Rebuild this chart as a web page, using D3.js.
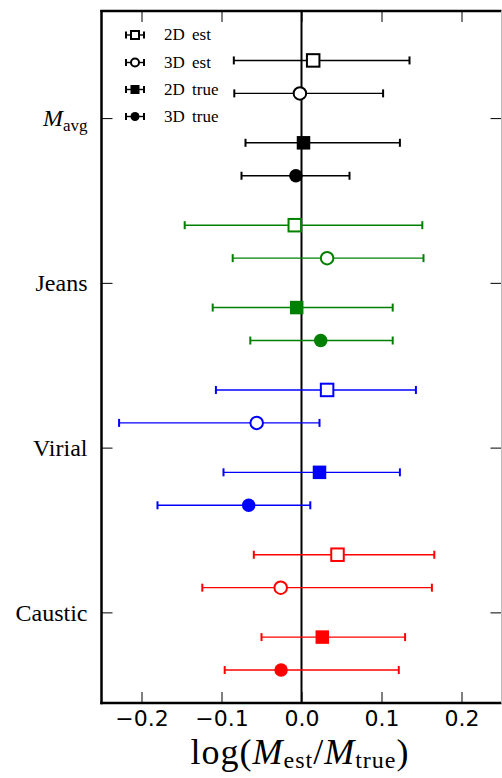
<!DOCTYPE html>
<html>
<head>
<meta charset="utf-8">
<script src="https://cdn.jsdelivr.net/npm/d3@7"></script>
<style>
  html, body { margin: 0; padding: 0; background: #fff; }
  svg { display: block; }
</style>
</head>
<body>
<svg id="chart" width="502" height="778"></svg>
<script>
// ---------------- data ----------------
const methods = ["Mavg", "Jeans", "Virial", "Caustic"];
const series = ["2D est", "3D est", "2D true", "3D true"];
const colors = ["#000000", "#008000", "#0000ff", "#ff0000"];
const xTicks = [-0.2, -0.1, 0.0, 0.1, 0.2];

// each array: [2D est, 3D est, 2D true, 3D true]
const mavgMid   = [0.0146, -0.002, 0.0025, -0.007];
const mavgLo    = [-0.0846, -0.084, -0.070, -0.075];
const mavgHi    = [0.135, 0.102, 0.123, 0.060];

const jeansMid  = [-0.0084, 0.032, -0.006, 0.024];
const jeansLo   = [-0.146, -0.086, -0.111, -0.064];
const jeansHi   = [0.151, 0.1525, 0.114, 0.114];

const virialMid = [0.032, -0.056, 0.0225, -0.066];
const virialLo  = [-0.107, -0.228, -0.0975, -0.180];
const virialHi  = [0.143, 0.0225, 0.123, 0.011];

const causticMid = [0.045, -0.026, 0.026, -0.0255];
const causticLo  = [-0.0596, -0.124, -0.050, -0.096];
const causticHi  = [0.166, 0.163, 0.1295, 0.1216];

const mids = [mavgMid, jeansMid, virialMid, causticMid];
const los  = [mavgLo, jeansLo, virialLo, causticLo];
const his  = [mavgHi, jeansHi, virialHi, causticHi];

// ---------------- layout ----------------
const offsets = [-0.35, -0.15, 0.15, 0.35];
const L = 101.5, R = 501.5, T = 11, B = 703;

const svg = d3.select("#chart");
const x = d3.scaleLinear().domain([-0.25, 0.25]).range([L, R]);
const y = d3.scaleLinear().domain([-0.65, 3.55]).range([T, B]);

const rows = [];
methods.forEach((m, i) => {
  series.forEach((s, j) => {
    rows.push({ m: i, s: j, mid: mids[i][j], lo: los[i][j], hi: his[i][j],
                yv: i + offsets[j], color: colors[i], open: j < 2, square: j % 2 === 0 });
  });
});

// zero line
svg.append("line")
  .attr("x1", x(0)).attr("x2", x(0)).attr("y1", T).attr("y2", B)
  .attr("stroke", "#000").attr("stroke-width", 2);

// error bars
const g = svg.append("g");
rows.forEach(d => {
  const yy = y(d.yv);
  g.append("line").attr("x1", x(d.lo)).attr("x2", x(d.hi)).attr("y1", yy).attr("y2", yy)
    .attr("stroke", d.color).attr("stroke-width", 1.4);
  [d.lo, d.hi].forEach(v => {
    g.append("line").attr("x1", x(v)).attr("x2", x(v)).attr("y1", yy - 4).attr("y2", yy + 4)
      .attr("stroke", d.color).attr("stroke-width", 2);
  });
});

function marker(sel, cx, cy, square, open, color, size) {
  if (square) {
    const h = open ? size - 1 : size;
    sel.append("rect").attr("x", cx - h / 2).attr("y", cy - h / 2).attr("width", h).attr("height", h)
      .attr("fill", open ? "#fff" : color).attr("stroke", color).attr("stroke-width", open ? 2 : 0);
  } else {
    const r = open ? size / 2 - 0.5 : size / 2;
    sel.append("circle").attr("cx", cx).attr("cy", cy).attr("r", r)
      .attr("fill", open ? "#fff" : color).attr("stroke", color).attr("stroke-width", open ? 2 : 0);
  }
}
rows.forEach(d => marker(g, x(d.mid), y(d.yv), d.square, d.open, d.color, 13.5));

// axes (ticks inward)
const fmt = d3.format(".1f");
const axB = svg.append("g").attr("transform", `translate(0,${B})`)
  .call(d3.axisBottom(x).tickValues(xTicks).tickSize(-11).tickPadding(7).tickFormat(fmt));
const axT = svg.append("g").attr("transform", `translate(0,${T})`)
  .call(d3.axisTop(x).tickValues(xTicks).tickSize(-11).tickFormat(""));
const axL = svg.append("g").attr("transform", `translate(${L},0)`)
  .call(d3.axisLeft(y).tickValues([0, 1, 2, 3]).tickSize(-11).tickPadding(14).tickFormat(i => methods[i]));
const axR = svg.append("g").attr("transform", `translate(${R},0)`)
  .call(d3.axisRight(y).tickValues([0, 1, 2, 3]).tickSize(-11).tickFormat(""));

[axB, axT, axL, axR].forEach(a => {
  a.select(".domain").remove();
  a.selectAll(".tick line").attr("stroke", "#000").attr("stroke-width", 1);
});
axB.selectAll(".tick text")
  .attr("font-family", "DejaVu Sans").attr("font-size", 22).attr("fill", "#000");
axL.selectAll(".tick text")
  .attr("font-family", "Liberation Serif").attr("font-size", 24).attr("fill", "#000")
  .attr("dy", "0.32em");
// M_avg label with subscript
axL.selectAll(".tick text").filter(i => i === 0).each(function () {
  const t = d3.select(this);
  t.text(null);
  t.append("tspan").attr("font-style", "italic").text("M");
  t.append("tspan").attr("font-size", 17).attr("dy", 5).text("avg");
});

// frame
svg.append("line").attr("x1", L).attr("x2", L).attr("y1", T - 1).attr("y2", B + 1.2)
  .attr("stroke", "#000").attr("stroke-width", 2.5);
svg.append("line").attr("x1", L - 1.2).attr("x2", R).attr("y1", B).attr("y2", B)
  .attr("stroke", "#000").attr("stroke-width", 2.5);
svg.append("line").attr("x1", L - 1.2).attr("x2", R).attr("y1", T).attr("y2", T)
  .attr("stroke", "#000").attr("stroke-width", 2.5);
svg.append("line").attr("x1", R).attr("x2", R).attr("y1", T).attr("y2", B)
  .attr("stroke", "#bbb").attr("stroke-width", 1);

// legend
const legY = [35, 62.5, 89.5, 116.5];
const lg = svg.append("g");
series.forEach((s, j) => {
  const cy = legY[j], cx = 135;
  lg.append("line").attr("x1", cx - 9).attr("x2", cx + 9).attr("y1", cy).attr("y2", cy)
    .attr("stroke", "#000").attr("stroke-width", 1.4);
  [cx - 9, cx + 9].forEach(v => lg.append("line").attr("x1", v).attr("x2", v)
    .attr("y1", cy - 3.5).attr("y2", cy + 3.5).attr("stroke", "#000").attr("stroke-width", 2));
  marker(lg, cx, cy, j % 2 === 0, j < 2, "#000", 9);
  lg.append("text").attr("x", 164).attr("y", cy + 5)
    .attr("font-family", "Liberation Serif").attr("font-size", 17).attr("word-spacing", 3)
    .text(s);
});

// x label
const xl = svg.append("text").attr("x", 300).attr("y", 764).attr("text-anchor", "middle")
  .attr("font-family", "Liberation Serif").attr("font-size", 36).attr("letter-spacing", 1)
  .attr("fill", "#000");
xl.append("tspan").text("log(");
xl.append("tspan").attr("font-style", "italic").text("M");
xl.append("tspan").attr("font-size", 24).attr("dy", 4).text("est");
xl.append("tspan").attr("dy", -4).text("/");
xl.append("tspan").attr("font-style", "italic").text("M");
xl.append("tspan").attr("font-size", 24).attr("dy", 4).text("true");
xl.append("tspan").attr("dy", -4).text(")");
</script>
</body>
</html>
